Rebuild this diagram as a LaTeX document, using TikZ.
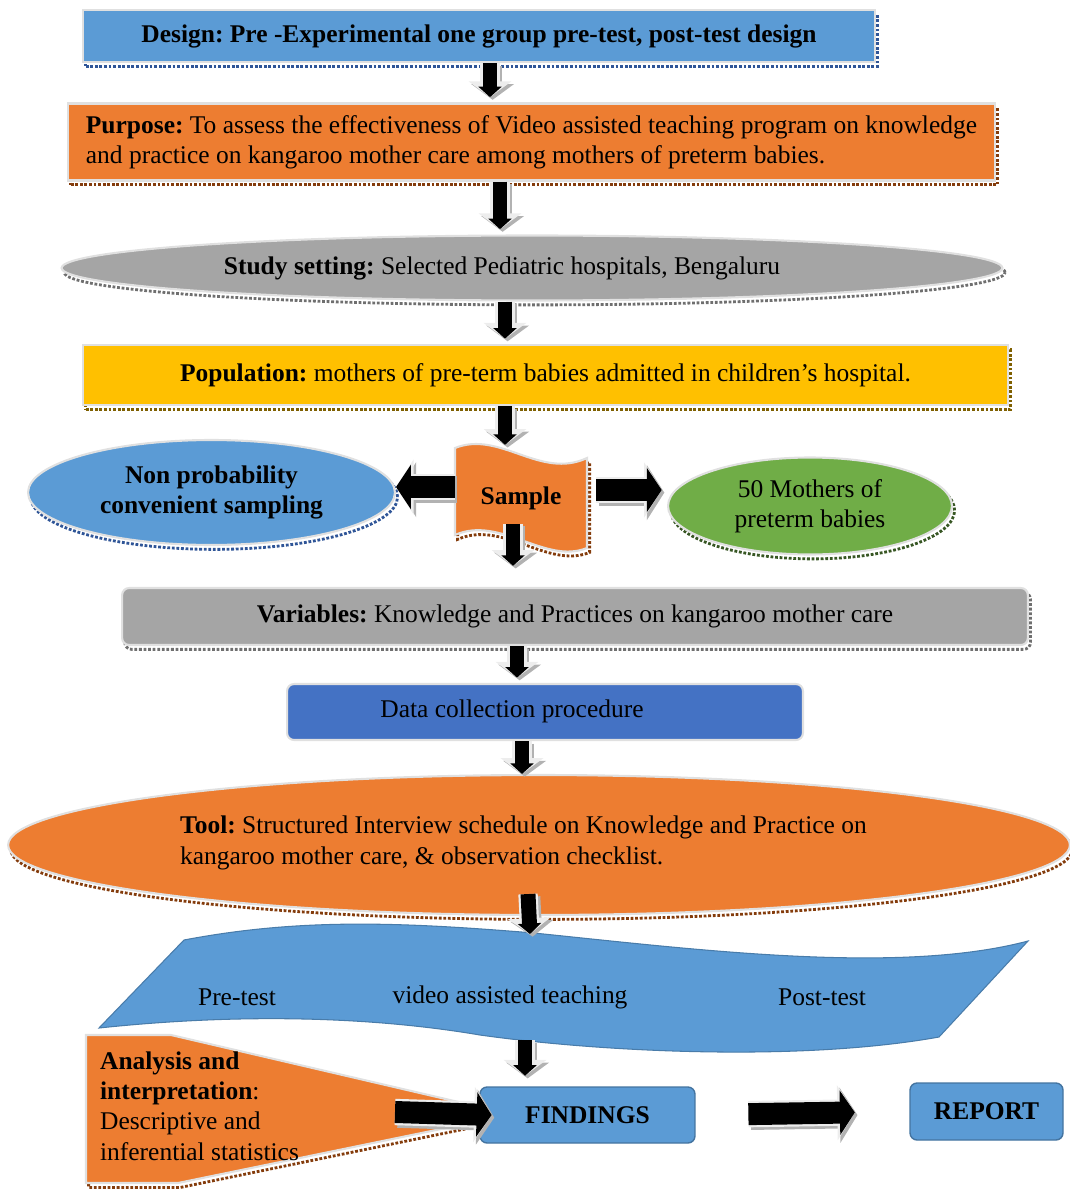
\documentclass[tikz,border=0pt]{standalone}
\usepackage{fontspec}
\setmainfont{Liberation Serif}
\frenchspacing
\usetikzlibrary{shapes.geometric,arrows.meta,calc}
\definecolor{boxblue}{HTML}{5B9BD5}
\definecolor{boxorange}{HTML}{ED7D31}
\definecolor{boxgray}{HTML}{A5A5A5}
\definecolor{boxyellow}{HTML}{FFC000}
\definecolor{boxgreen}{HTML}{70AD47}
\definecolor{boxdarkblue}{HTML}{4472C4}
\definecolor{dotblue}{HTML}{2F5597}
\definecolor{dotbrown}{HTML}{843C0C}
\definecolor{dotgray}{HTML}{6F6F6F}
\definecolor{dotgold}{HTML}{7F6000}
\definecolor{dotgreen}{HTML}{375623}
\tikzset{
  box/.style={draw=white!88!black, line width=1.2pt, inner sep=2pt},
  roundbox/.style={box, rounded corners=4pt},
  dotshadow/.style={preaction={draw=#1, densely dotted, line width=1.6pt, transform canvas={shift={(1.5pt,-2.5pt)}}}},
  txt/.style={font=\fontsize{14.5}{17.3}\selectfont, align=center, inner sep=1pt},
  downarrow/.style={line width=8.5pt, -{Triangle[width=13pt,length=6pt]}, shorten >=3pt,
    preaction={draw=black!30, line width=11pt, -{Triangle[width=24pt,length=9pt]}, transform canvas={shift={(1.5pt,-1.5pt)}}},
    preaction={draw=white!93!black, line width=11pt, -{Triangle[width=24pt,length=9pt]}}},
  sidearrow/.style={line width=12.5pt, -{Triangle[width=25pt,length=8.5pt]},
    preaction={draw=black!30, line width=15pt, -{Triangle[width=31pt,length=10pt]}, transform canvas={shift={(1.5pt,-1.5pt)}}},
    preaction={draw=white!93!black, line width=15pt, -{Triangle[width=31pt,length=10pt]}}},
}
\begin{document}
\begin{tikzpicture}[x=0.02cm, y=-0.02cm]
\useasboundingbox (0,0) rectangle (1070,1189);

\node[box, dotshadow=dotblue, fill=boxblue, minimum width=15.84cm, minimum height=1.04cm, txt] (design) at (479,36) {\bfseries Design: Pre -Experimental one group pre-test, post-test design};
\node[box, dotshadow=dotbrown, fill=boxorange, minimum width=18.54cm, minimum height=1.54cm, txt, align=left] (purpose) at (531.5,142) {\textbf{Purpose:} To assess the effectiveness of Video assisted teaching program on knowledge\\and practice on kangaroo mother care among mothers of preterm babies.};
\node[ellipse, box, dotshadow=dotgray, fill=boxgray, minimum width=18.82cm, minimum height=1.3cm] (setting) at (532,268) {};
\node[txt] (settingtext) at (502,268) {\textbf{Study setting:} Selected Pediatric hospitals, Bengaluru};
\node[box, dotshadow=dotgold, fill=boxyellow, minimum width=18.5cm, minimum height=1.2cm, txt] (population) at (545.5,375) {\textbf{Population:} mothers of pre-term babies admitted in children’s hospital.};

\draw[dotshadow=dotbrown, draw=white!88!black, line width=1.2pt, fill=boxorange] (455,448) .. controls (500,430) and (540,480) .. (587,458) -- (587,548) .. controls (545,565) and (500,515) .. (455,535) -- cycle;
\node[txt, minimum width=2.64cm, minimum height=1.9cm] (sample) at (521,498) {\bfseries Sample};
\node[ellipse, box, dotshadow=dotblue, fill=boxblue, minimum width=7.34cm, minimum height=2.1cm, txt, font=\fontsize{14.5}{17.3}\selectfont\bfseries] (nonprob) at (211.5,492.5) {Non probability\\convenient sampling};
\node[ellipse, box, dotshadow=dotgreen, fill=boxgreen, minimum width=5.68cm, minimum height=1.94cm, txt] (mothers) at (810,506) {50 Mothers of\\preterm babies};

\node[roundbox, dotshadow=dotgray, fill=boxgray, minimum width=18.12cm, minimum height=1.14cm, txt] (variables) at (575,616.5) {\textbf{Variables:} Knowledge and Practices on kangaroo mother care};
\node[roundbox, fill=boxdarkblue, minimum width=10.32cm, minimum height=1.12cm] (datacoll) at (545,712) {};
\node[txt] (datatext) at (512,711) {Data collection procedure};

\node[ellipse, box, dotshadow=dotbrown, fill=boxorange, minimum width=21.24cm, minimum height=2.8cm] (tool) at (539,845) {};
\node[txt, align=left, anchor=west] (tooltext) at (178,843) {\textbf{Tool:} Structured Interview schedule on Knowledge and Practice on\\kangaroo mother care, \& observation checklist.};

\draw[fill=boxblue, draw=boxblue!80!black, line width=0.6pt] (184,940) .. controls (300,918) and (400,922) .. (534,933) .. controls (700,950) and (900,975) .. (1028,941) -- (939,1037) .. controls (800,1062) and (600,1052) .. (480,1035) .. controls (380,1018) and (250,1012) .. (99,1028) -- cycle;
\node[txt] (pretest) at (237,997) {Pre-test};
\node[txt] (video) at (510,997) {video assisted teaching};
\node[txt] (posttest) at (822,997) {Post-test};
\coordinate (wavetop) at (530,934);
\coordinate (wavebot) at (525,1040);

\draw[dotshadow=dotbrown, draw=white!88!black, line width=1.2pt, fill=boxorange] (86,1035) -- (171,1035) -- (480,1107) -- (480,1121) -- (178,1183) -- (86,1183) -- cycle;
\node[txt, align=left, anchor=west] (analysis) at (98,1106) {\textbf{Analysis and}\\\textbf{interpretation}:\\Descriptive and\\inferential statistics};
\coordinate (analysistip) at (395,1112);

\node[roundbox, draw=boxblue!75!black, line width=0.8pt, fill=boxblue, minimum width=4.3cm, minimum height=1.12cm, txt] (findings) at (587.5,1115) {\bfseries FINDINGS};
\node[roundbox, draw=boxblue!75!black, line width=0.8pt, fill=boxblue, minimum width=3.06cm, minimum height=1.14cm, txt] (report) at (986.5,1111.5) {\bfseries REPORT};

\draw[downarrow] (design.south -| 490,0) -- (purpose.north -| 490,0);
\draw[downarrow] (purpose.south -| 500,0) -- (setting.north -| 500,0);
\draw[downarrow] (setting.south -| 505,0) -- (population.north -| 505,0);
\draw[downarrow] (population.south -| 505,0) -- (sample.north -| 505,0);
\draw[sidearrow] (sample.west |- 0,487) -- (nonprob.east |- 0,487);
\draw[sidearrow, shorten <=5pt, shorten >=3pt] (sample.east |- 0,490) -- (mothers.west |- 0,490);
\draw[downarrow, shorten >=12pt] ($(sample.south -| 513,0)+(0,-22)$) -- (variables.north -| 513,0);
\draw[downarrow] (variables.south -| 517,0) -- (datacoll.north -| 517,0);
\draw[downarrow, shorten >=0pt] (datacoll.south -| 522,0) -- (tool.north -| 522,0);
\draw[downarrow, shorten >=0pt] ($(tool.south -| 528,0)+(0,-22)$) -- (wavetop);
\draw[downarrow, shorten >=6pt] (wavebot) -- (findings.north -| 525,0);
\draw[sidearrow] (analysistip) -- ([xshift=7pt]findings.west);
\draw[sidearrow, shorten <=30pt, shorten >=31pt] (findings.east) -- (report.west);
\end{tikzpicture}
\end{document}
